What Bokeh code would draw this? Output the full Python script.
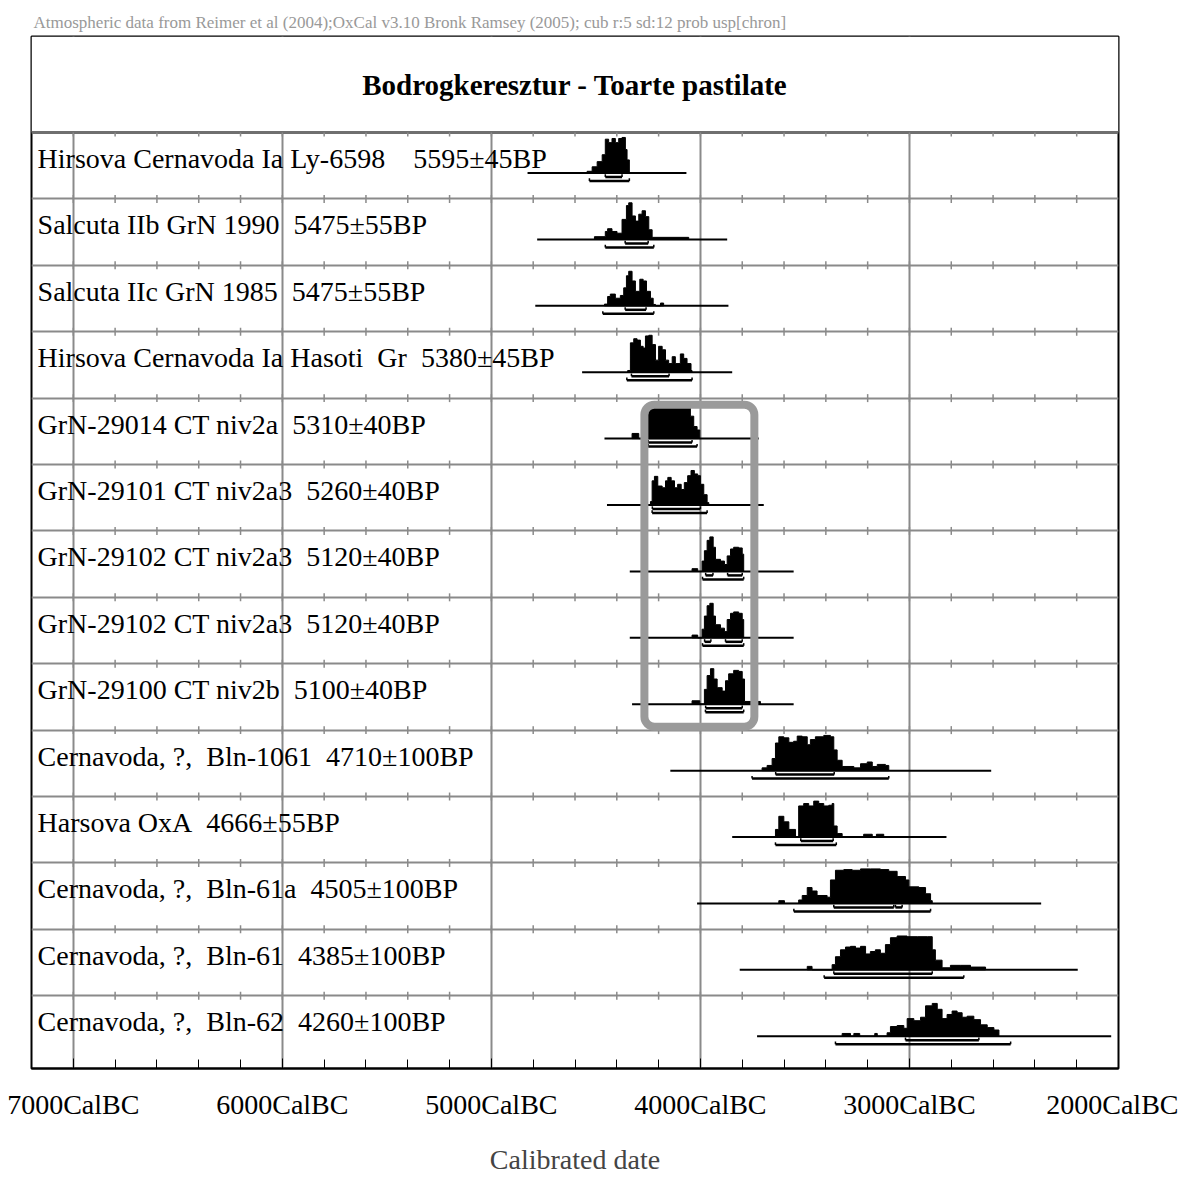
from bokeh.plotting import figure
from bokeh.models import Range1d, FixedTicker, BoxAnnotation
from bokeh.embed import file_html
from bokeh.resources import INLINE
from bokeh.core.properties import value

# ---------------- data ----------------
header_text = ("Atmospheric data from Reimer et al (2004);OxCal v3.10 Bronk Ramsey (2005); "
               "cub r:5 sd:12 prob usp[chron]")
title_text = "Bodrogkeresztur - Toarte pastilate"
axis_title = "Calibrated date"

sample_labels = [
    "Hirsova Cernavoda Ia Ly-6598    5595\u00b145BP",
    "Salcuta IIb GrN 1990  5475\u00b155BP",
    "Salcuta IIc GrN 1985  5475\u00b155BP",
    "Hirsova Cernavoda Ia Hasoti  Gr  5380\u00b145BP",
    "GrN-29014 CT niv2a  5310\u00b140BP",
    "GrN-29101 CT niv2a3  5260\u00b140BP",
    "GrN-29102 CT niv2a3  5120\u00b140BP",
    "GrN-29102 CT niv2a3  5120\u00b140BP",
    "GrN-29100 CT niv2b  5100\u00b140BP",
    "Cernavoda, ?,  Bln-1061  4710\u00b1100BP",
    "Harsova OxA  4666\u00b155BP",
    "Cernavoda, ?,  Bln-61a  4505\u00b1100BP",
    "Cernavoda, ?,  Bln-61  4385\u00b1100BP",
    "Cernavoda, ?,  Bln-62  4260\u00b1100BP",
]

major_ticks = [7000, 6000, 5000, 4000, 3000, 2000]
tick_labels = {t: f"{t}CalBC" for t in major_ticks}
grid_years = [7000, 6000, 5000, 4000, 3000]
minor_step = 200

# extent of the plotted calibration range for each sample (years BC)
base_start = [4827, 4781, 4790, 4566, 4459, 4447, 4338, 4338, 4327, 4144, 3848, 4016, 3812, 3729]
base_end = [4067, 3872, 3866, 3848, 3721, 3697, 3554, 3554, 3554, 2609, 2823, 2370, 2195, 2035]

# probability distributions: years BC and relative height (100 = tallest)
dist_years = [
    [4542, 4518, 4494, 4470, 4455, 4439, 4423, 4407, 4391, 4375, 4359, 4351, 4340],
    [4507, 4455, 4444, 4423, 4399, 4375, 4354, 4343, 4327, 4311, 4295, 4279, 4263, 4247, 4231, 4056],
    [4459, 4444, 4431, 4407, 4383, 4367, 4354, 4343, 4327, 4311, 4290, 4274, 4258, 4239, 4226, 4215, 4191, 4176],
    [4348, 4335, 4319, 4303, 4287, 4274, 4263, 4247, 4231, 4215, 4200, 4183, 4167, 4152, 4135, 4120, 4096, 4080, 4064, 4045, 4040],
    [4327, 4295, 4271, 4255, 4247, 4231, 4207, 4191, 4159, 4128, 4096, 4064, 4048, 4032, 4016, 4003],
    [4239, 4231, 4220, 4204, 4183, 4167, 4156, 4140, 4124, 4109, 4092, 4077, 4061, 4045, 4029, 4013, 4000, 3984, 3968, 3960],
    [4040, 4013, 3992, 3981, 3968, 3955, 3939, 3928, 3904, 3885, 3872, 3856, 3841, 3817, 3800, 3793],
    [4040, 4013, 3992, 3981, 3968, 3955, 3939, 3928, 3904, 3885, 3872, 3856, 3841, 3817, 3800, 3793],
    [4040, 4003, 3981, 3968, 3952, 3936, 3920, 3896, 3880, 3865, 3841, 3817, 3800, 3789, 3713],
    [3705, 3681, 3657, 3641, 3625, 3601, 3577, 3554, 3537, 3513, 3489, 3474, 3450, 3410, 3378, 3362, 3346, 3322, 3266, 3234, 3202, 3178, 3154, 3115, 3099],
    [3641, 3625, 3601, 3577, 3545, 3530, 3506, 3482, 3458, 3434, 3410, 3386, 3370, 3362, 3346, 3322, 3219, 3178, 3158, 3123],
    [3625, 3598, 3530, 3513, 3489, 3466, 3442, 3394, 3378, 3354, 3314, 3274, 3234, 3187, 3139, 3099, 3059, 3019, 3003, 2955, 2923, 2899, 2891],
    [3489, 3466, 3370, 3354, 3330, 3306, 3282, 3258, 3234, 3210, 3187, 3163, 3139, 3115, 3091, 3059, 3011, 2963, 2915, 2891, 2876, 2844, 2804, 2756, 2708, 2636],
    [3322, 3282, 3266, 3238, 3166, 3154, 3107, 3091, 3059, 3027, 3011, 2979, 2947, 2923, 2891, 2867, 2844, 2820, 2796, 2772, 2748, 2724, 2692, 2660, 2628, 2596, 2572],
]
dist_heights = [
    [5, 18, 33, 53, 98, 88, 100, 88, 100, 103, 68, 38, 0],
    [8, 23, 31, 23, 18, 58, 98, 106, 68, 53, 73, 83, 66, 28, 6, 0],
    [5, 27, 34, 22, 30, 52, 87, 100, 72, 42, 77, 72, 42, 22, 4, 0, 8, 0],
    [5, 85, 97, 93, 75, 70, 105, 107, 80, 35, 75, 65, 35, 25, 45, 25, 53, 40, 25, 5, 0],
    [15, 0, 25, 70, 95, 97, 90, 100, 97, 103, 100, 103, 65, 35, 25, 0],
    [10, 70, 83, 55, 50, 70, 80, 70, 50, 60, 45, 65, 85, 100, 90, 85, 60, 30, 7, 0],
    [8, 0, 30, 60, 90, 100, 70, 35, 30, 20, 45, 65, 70, 68, 50, 0],
    [8, 0, 25, 63, 93, 100, 63, 38, 28, 18, 53, 71, 75, 71, 53, 0],
    [10, 0, 43, 83, 103, 73, 48, 38, 68, 88, 98, 95, 73, 8, 0],
    [8, 15, 35, 80, 98, 95, 82, 85, 100, 98, 75, 90, 98, 102, 98, 60, 30, 12, 8, 20, 25, 12, 18, 15, 0],
    [22, 60, 44, 22, 0, 90, 97, 90, 104, 97, 90, 92, 97, 32, 10, 0, 8, 0, 8, 0],
    [8, 0, 10, 23, 46, 36, 23, 18, 68, 96, 98, 96, 100, 100, 98, 93, 78, 68, 48, 46, 28, 8, 0],
    [10, 0, 15, 38, 58, 66, 68, 63, 68, 46, 53, 58, 48, 73, 93, 98, 96, 96, 96, 58, 28, 6, 13, 13, 8, 0],
    [8, 0, 8, 0, 8, 0, 10, 28, 31, 23, 51, 45, 55, 88, 95, 78, 51, 63, 73, 68, 55, 58, 48, 33, 25, 18, 0],
]

# 68.2% and 95.4% ranges (years BC)
range68 = [
    [(4455, 4375)], [(4360, 4250)], [(4360, 4260)], [(4330, 4150)],
    [(4250, 4040)], [(4230, 4000)], [(3975, 3940), (3870, 3800)],
    [(3980, 3950), (3880, 3800)], [(3975, 3800)], [(3640, 3360)],
    [(3520, 3365)], [(3362, 3075), (3067, 3035)], [(3362, 2891)], [(3019, 2668)],
]
range95 = [
    [(4531, 4340)], [(4455, 4223)], [(4467, 4223)], [(4352, 4040)],
    [(4250, 4016)], [(4231, 3968)], [(3990, 3793)], [(3990, 3793)],
    [(3976, 3793)], [(3753, 3099)], [(3641, 3350)], [(3553, 2899)],
    [(3408, 2740)], [(3354, 2516)],
]

# highlighted group (rows 5-9), years BC and row coordinates
box_years = (4268, 3742)
box_rows = (4.10, 8.95)

# ---------------- layout constants ----------------
N = len(sample_labels)
BASE = 0.61      # baseline offset inside a row
H = 0.0052       # row units per height unit
TOP = -1.446
BOTTOM = 14.096
FONT = "Liberation Serif"

p = figure(frame_width=1087, frame_height=1032,
           x_range=Range1d(7200, 2000), y_range=Range1d(BOTTOM, TOP),
           output_backend="svg", toolbar_location=None,
           min_border_left=31, min_border_top=36, min_border_right=60,
           background_fill_color="white", border_fill_color="white")

# header credits as the figure title
p.title.text = header_text
p.title.text_font = FONT
p.title.text_font_size = "17px"
p.title.text_font_style = "normal"
p.title.text_color = "#999999"
p.title.align = "left"
p.title.offset = 2
p.title.standoff = 9

p.outline_line_color = "black"
p.outline_line_width = 2
p.yaxis.visible = False

minor = [y for y in range(7200 - minor_step, 2000, -minor_step)]
p.xaxis.ticker = FixedTicker(ticks=major_ticks, minor_ticks=minor)
p.xaxis.major_label_overrides = tick_labels
p.xaxis.major_label_text_font = FONT
p.xaxis.major_label_text_font_size = "28px"
p.xaxis.major_label_text_color = "black"
p.xaxis.major_label_standoff = 20
p.xaxis.major_tick_in = 10
p.xaxis.major_tick_out = 0
p.xaxis.minor_tick_in = 9
p.xaxis.minor_tick_out = 0
p.xaxis.major_tick_line_color = "black"
p.xaxis.minor_tick_line_color = "black"
p.xaxis.axis_line_color = "black"
p.xaxis.axis_line_width = 2
p.xaxis.axis_label = axis_title
p.xaxis.axis_label_text_font = FONT
p.xaxis.axis_label_text_font_size = "28px"
p.xaxis.axis_label_text_font_style = "normal"
p.xaxis.axis_label_standoff = 21

p.xgrid.ticker = FixedTicker(ticks=grid_years)
p.xgrid.grid_line_color = "#8a8a8a"
p.xgrid.grid_line_width = 2
p.ygrid.ticker = FixedTicker(ticks=list(range(1, N)))
p.ygrid.grid_line_color = "#8a8a8a"
p.ygrid.grid_line_width = 2

# title box
p.quad(left=[7200], right=[2000], top=[TOP], bottom=[0], fill_color="white", line_color=None)
p.segment(x0=[7200], x1=[2000], y0=[0], y1=[0], line_color="#6f6f6f", line_width=3)
p.text(x=[4600], y=[TOP / 2], text=[title_text], text_font=value(FONT),
       text_font_size="29px", text_font_style="bold", text_align="center",
       text_baseline="middle", text_color="black")

# small tick marks on every row separator
tx0, ty0, ty1 = [], [], []
for s in range(N):
    for t in minor:
        tx0.append(t)
        ty0.append(s - 0.06 if s > 0 else 0)
        ty1.append(s + 0.06)
p.segment(x0=tx0, x1=tx0, y0=ty0, y1=ty1, line_color="#8a8a8a", line_width=1.5)

# row labels (runs of spaces kept visible with no-break spaces)
shown_labels = [s.replace("  ", "\u00a0 ") for s in sample_labels]
p.text(x=[7171] * N, y=[i + 0.39 for i in range(N)], text=shown_labels,
       text_font=value(FONT), text_font_size="28px", text_baseline="alphabetic",
       text_color="black")

# distributions
xs_all, ys_all = [], []
for i in range(N):
    yb = i + BASE
    yrs, hts = dist_years[i], dist_heights[i]
    xs = [yrs[0]]
    ys = [yb]
    for k in range(len(yrs) - 1):
        xs += [yrs[k], yrs[k + 1]]
        ys += [yb - hts[k] * H, yb - hts[k] * H]
    xs.append(yrs[-1])
    ys.append(yb)
    xs_all.append(xs)
    ys_all.append(ys)
p.patches(xs_all, ys_all, fill_color="black", line_color="black", line_width=1)

# baselines
p.segment(x0=base_start, x1=base_end, y0=[i + BASE for i in range(N)],
          y1=[i + BASE for i in range(N)], line_color="black", line_width=2)

# range bars
for rng, off in ((range68, 0.06), (range95, 0.12)):
    a, b, c = [], [], []
    for i, lst in enumerate(rng):
        for (s0, s1) in lst:
            a.append(s0)
            b.append(s1)
            c.append(i + BASE + off)
    p.segment(x0=a, x1=b, y0=c, y1=c, line_color="black", line_width=2.5)
    p.segment(x0=a, x1=a, y0=[v - 0.04 for v in c], y1=c, line_color="black", line_width=1.5)
    p.segment(x0=b, x1=b, y0=[v - 0.04 for v in c], y1=c, line_color="black", line_width=1.5)

# highlight box
p.add_layout(BoxAnnotation(left=box_years[0], right=box_years[1],
                           top=box_rows[0], bottom=box_rows[1],
                           fill_alpha=0, line_color="#9a9a9a", line_alpha=1.0,
                           line_width=8, border_radius=10))

open("out.html", "w").write(file_html(p, INLINE))
